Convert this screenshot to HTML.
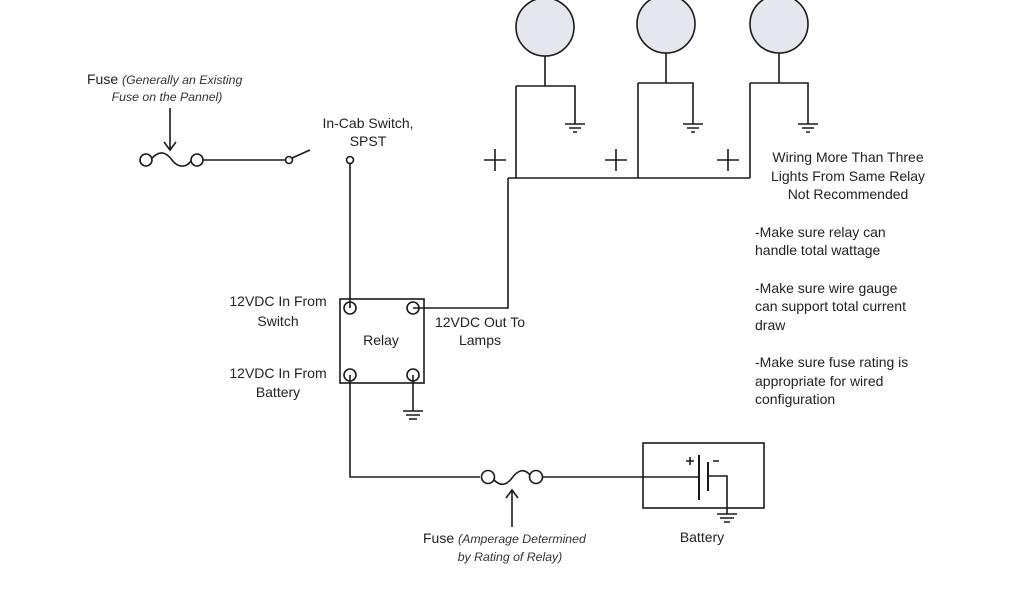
<!DOCTYPE html>
<html><head><meta charset="utf-8"><style>
html,body{margin:0;padding:0;background:#fff;}
svg{display:block;}
text{font-family:"Liberation Sans",Arial,sans-serif;fill:#222;font-size:14px;}
.i{font-style:italic;font-size:12.3px;fill:#333;}
</style></head><body>
<svg width="1024" height="600" viewBox="0 0 1024 600" xmlns="http://www.w3.org/2000/svg">
<g stroke="#1a1a1a" stroke-width="1.6" fill="none">
<circle cx="545" cy="27" r="29" fill="#e6e6ee"/>
<circle cx="666" cy="24" r="29" fill="#e6e6ee"/>
<circle cx="779" cy="24" r="29" fill="#e6e6ee"/>
<path d="M545 56V86M516 86H575V124M666 53V83M638 83H693V124M779 53V83M750 83H808V124"/>
<path d="M516 86V178M638 83V178M750 83V178M508 178H750M508 178V308H413"/>
<path d="M565 124H585M569 128H581M573 132H577"/>
<path d="M683 124H703M687 128H699M691 132H695"/>
<path d="M798 124H818M802 128H814M806 132H810"/>
<path d="M484 160H506M495 149V171M605 160H627M616 149V171M717 160H739M728 149V171"/>
<circle cx="146" cy="160" r="6"/><circle cx="197" cy="160" r="6"/>
<path d="M152 158C160 150 166 152 172 160S186 168 191 161"/>
<path d="M170 108V150M164 142L170 150L176 142"/>
<path d="M203 160H285"/>
<circle cx="289" cy="160" r="3.5"/>
<path d="M292 158L310 150"/>
<circle cx="350" cy="160" r="3.5"/>
<path d="M350 164V308"/>
<rect x="340" y="299" width="84" height="84"/>
<circle cx="350" cy="308" r="6"/><circle cx="413" cy="308" r="6"/>
<circle cx="350" cy="375" r="6"/><circle cx="413" cy="375" r="6"/>
<path d="M413 375V411M403 411H423M406 415H420M409 419H417"/>
<path d="M350 375V477H480"/>
<circle cx="488" cy="477" r="6.5"/><circle cx="536" cy="477" r="6.5"/>
<path d="M494 480C500 486 506 486 512 478S524 468 530 475"/>
<path d="M512 527V490M506 498L512 490L518 498"/>
<path d="M543 477H699"/>
<rect x="643" y="443" width="121" height="65"/>
<path d="M699 455V500M708 462V491" stroke-width="2"/>
<path d="M708 476H727V514M717 514H737M720 518H734M724 522H730"/>
<path d="M686 461H694M690 457V465M713 461H719"/>
</g>
<text x="87" y="84">Fuse <tspan class="i">(Generally an Existing</tspan></text>
<text class="i" x="167" y="101" text-anchor="middle">Fuse on the Pannel)</text>
<text x="368" y="128" text-anchor="middle">In-Cab Switch,</text>
<text x="368" y="146" text-anchor="middle">SPST</text>
<text x="278" y="306" text-anchor="middle">12VDC In From</text>
<text x="278" y="326" text-anchor="middle">Switch</text>
<text x="278" y="378" text-anchor="middle">12VDC In From</text>
<text x="278" y="397" text-anchor="middle">Battery</text>
<text x="381" y="345" text-anchor="middle">Relay</text>
<text x="480" y="327" text-anchor="middle">12VDC Out To</text>
<text x="480" y="345" text-anchor="middle">Lamps</text>
<text x="423" y="543">Fuse <tspan class="i">(Amperage Determined</tspan></text>
<text class="i" x="510" y="561" text-anchor="middle">by Rating of Relay)</text>
<text x="702" y="542" text-anchor="middle">Battery</text>
<g text-anchor="middle">
<text x="848" y="162">Wiring More Than Three</text>
<text x="848" y="181">Lights From Same Relay</text>
<text x="848" y="199">Not Recommended</text>
</g>
<text x="755" y="237">-Make sure relay can</text>
<text x="755" y="255">handle total wattage</text>
<text x="755" y="293">-Make sure wire gauge</text>
<text x="755" y="311">can support total current</text>
<text x="755" y="330">draw</text>
<text x="755" y="367">-Make sure fuse rating is</text>
<text x="755" y="386">appropriate for wired</text>
<text x="755" y="404">configuration</text>
</svg>
</body></html>
